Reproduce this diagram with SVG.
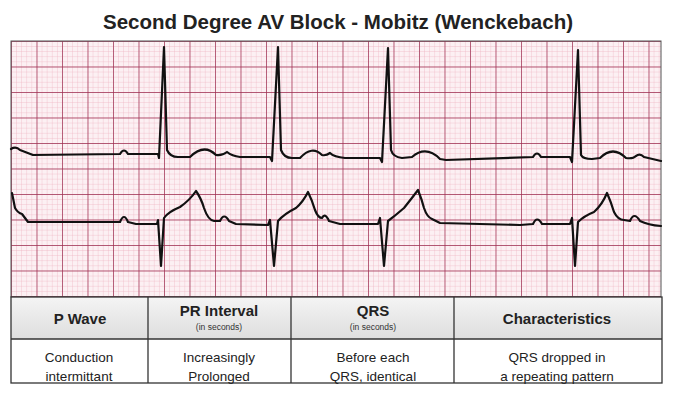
<svg xmlns="http://www.w3.org/2000/svg" width="680" height="413" viewBox="0 0 680 413">
<style>
.tr{fill:none;stroke:#111;stroke-width:2.2;stroke-linejoin:round;stroke-linecap:round}
.h{font-family:"Liberation Sans",Arial,sans-serif;font-weight:bold;font-size:15px;fill:#222;text-anchor:middle}
.s{font-family:"Liberation Sans",Arial,sans-serif;font-size:8.5px;fill:#333;text-anchor:middle}
.b{font-family:"Liberation Sans",Arial,sans-serif;font-size:13.5px;fill:#222;text-anchor:middle}
.ln{stroke:#333;stroke-width:1.3}
</style>
<defs>
<pattern id="minor" x="11" y="41" width="5.1" height="5.1" patternUnits="userSpaceOnUse">
<path d="M0 0H5.1M0 0V5.1" stroke="#eeb2c0" stroke-width="0.7" fill="none"/>
</pattern>
<pattern id="major" x="11" y="41" width="25.5" height="25.5" patternUnits="userSpaceOnUse">
<path d="M0 0H25.5M0 0V25.5" stroke="#9c2c50" stroke-width="1.4" fill="none"/>
</pattern>
<linearGradient id="hg" x1="0" y1="0" x2="0" y2="1"><stop offset="0" stop-color="#f4f4f4"/><stop offset="1" stop-color="#dedede"/></linearGradient>
</defs>
<rect width="680" height="413" fill="#fff"/>
<text x="338" y="29" font-family="'Liberation Sans',Arial,sans-serif" font-weight="bold" font-size="20" fill="#222" text-anchor="middle" textLength="470" lengthAdjust="spacingAndGlyphs">Second Degree AV Block - Mobitz (Wenckebach)</text>
<g id="grid">
<rect x="11" y="41" width="650" height="256" fill="#fcf0f3"/>
<rect x="11" y="41" width="650" height="256" fill="url(#minor)"/>
<rect x="11" y="41" width="650" height="256" fill="url(#major)"/>
<rect x="11" y="41" width="650" height="256" fill="none" stroke="#555" stroke-width="1"/>
</g>
<g id="traces">
<path class="tr" d="M11 149 Q16 146 20 150 L33 155 L120 154 Q124 147 128 154 L158 154 L159 158 L164 47 L167 150 Q170 157 178 157 L190 157 Q204 143 216 155 Q222 156 227 152 Q232 156 240 157 L270 157 L272 161 L278 47 L281 150 Q284 158 292 158 L300 158 Q312 145 322 155 Q326 156 330 153 Q334 157 345 158 L380 158 L382 162 L388 48 L391 150 Q393 157 402 158 L412 157 Q426 145 440 159 L446 160 L533 157 Q537 150 541 157 L570 157 L572 162 L578 50 L581 155 Q583 159 592 159 L600 158 Q613 145 626 158 Q633 159 636 156 Q640 153 644 157 L661 161"/>
<path class="tr" d="M12 193 L15 208 Q18 213 22 214 L28 222 L120 222 Q124 212 128 222 L136 224 L157 224 L158 220 L161 266 L164 218 Q168 212 180 207 Q190 200 196 191 Q201 198 204 208 Q208 220 214 221 L220 221 Q224 212 229 221 L236 224 L268 225 L270 220 L274 266 L278 221 Q284 214 296 208 Q303 202 308 192 Q312 200 315 210 Q318 218 322 218 Q325 212 329 221 L340 224 L378 224 L380 218 L384 266 L388 221 Q396 215 404 208 Q412 198 418 190 Q422 200 424 208 Q427 217 432 219 L440 223 L520 225 L533 224 Q537 215 542 224 L570 224 L572 218 L575 266 L578 222 Q584 216 594 212 Q602 205 607 193 Q611 202 614 212 Q618 220 624 220 L630 221 Q634 211 640 221 Q648 225 661 226"/>
</g>
<g id="table">
<rect x="11" y="297" width="651" height="42" fill="url(#hg)"/>
<rect x="11" y="339" width="651" height="44" fill="#fff"/>
<rect x="11" y="297" width="651" height="86" fill="none" class="ln"/>
<line class="ln" x1="11" y1="339" x2="662" y2="339"/>
<line class="ln" x1="148" y1="297" x2="148" y2="383"/>
<line class="ln" x1="291" y1="297" x2="291" y2="383"/>
<line class="ln" x1="454" y1="297" x2="454" y2="383"/>
</g>
<g id="header">
<text class="h" x="80" y="324">P Wave</text>
<text class="h" x="219" y="316">PR Interval</text>
<text class="s" x="219" y="330">(in seconds)</text>
<text class="h" x="373" y="316">QRS</text>
<text class="s" x="373" y="330">(in seconds)</text>
<text class="h" x="557" y="324">Characteristics</text>
</g>
<g id="body">
<text class="b" x="79" y="362">Conduction</text>
<text class="b" x="79" y="381">intermittant</text>
<text class="b" x="219" y="362">Increasingly</text>
<text class="b" x="219" y="381">Prolonged</text>
<text class="b" x="373" y="362">Before each</text>
<text class="b" x="373" y="381">QRS, identical</text>
<text class="b" x="557" y="362">QRS dropped in</text>
<text class="b" x="557" y="381">a repeating pattern</text>
</g>
</svg>
